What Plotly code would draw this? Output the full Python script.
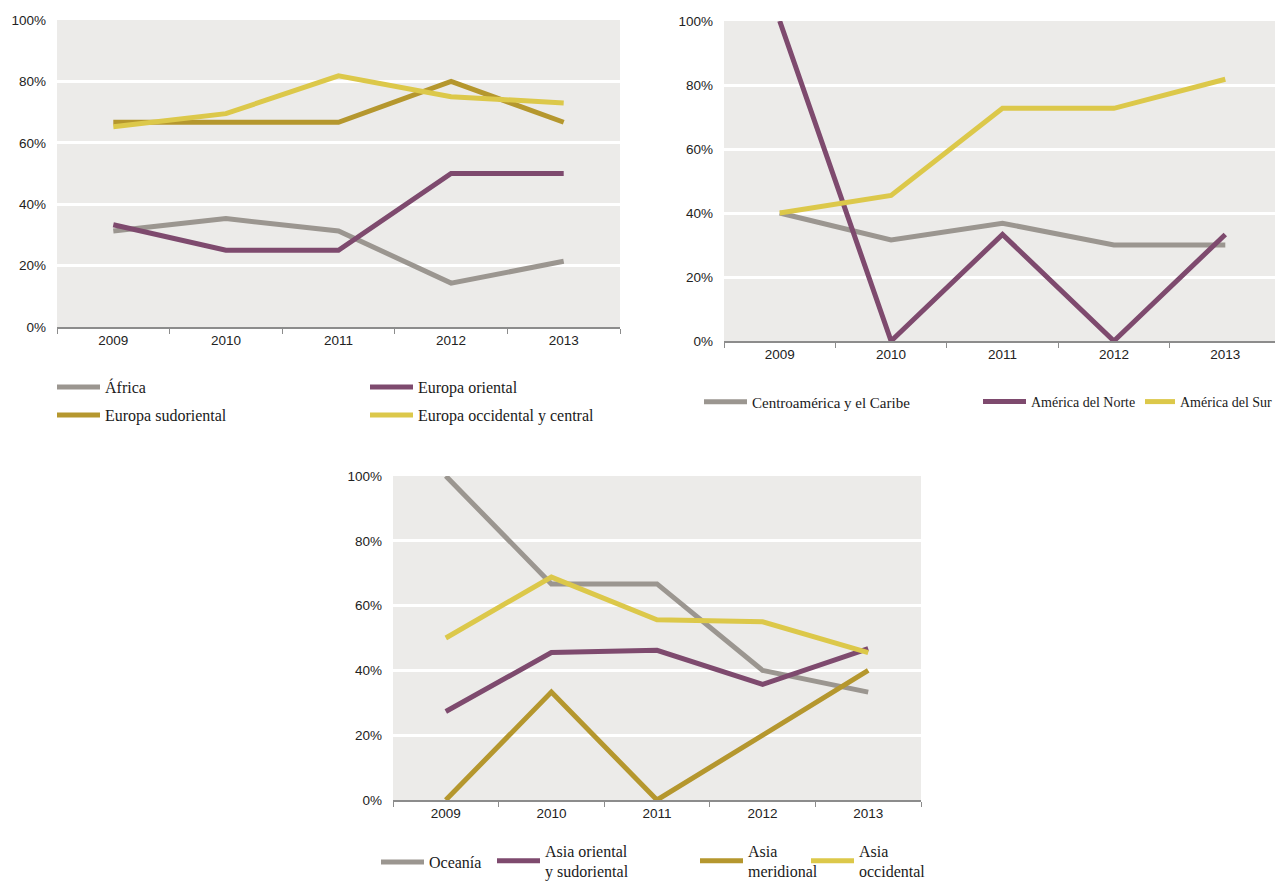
import plotly.graph_objects as go

years = ["2009", "2010", "2011", "2012", "2013"]
y_ticks = [0, 0.2, 0.4, 0.6, 0.8, 1.0]
y_tick_labels = ["0%", "20%", "40%", "60%", "80%", "100%"]

# Chart 1
africa = [0.313, 0.353, 0.313, 0.143, 0.214]
europa_oriental = [0.333, 0.25, 0.25, 0.50, 0.50]
europa_sudoriental = [0.667, 0.667, 0.667, 0.80, 0.667]
europa_occ_central = [0.652, 0.695, 0.818, 0.75, 0.73]

# Chart 2
centroamerica = [0.40, 0.316, 0.368, 0.30, 0.30]
america_norte = [1.0, 0.0, 0.333, 0.0, 0.333]
america_sur = [0.40, 0.455, 0.727, 0.727, 0.818]

# Chart 3
oceania = [1.0, 0.667, 0.667, 0.40, 0.333]
asia_oriental = [0.273, 0.455, 0.462, 0.357, 0.467]
asia_meridional = [0.0, 0.333, 0.0, 0.20, 0.40]
asia_occidental = [0.50, 0.688, 0.556, 0.55, 0.455]

GRAY = "#9b9690"
PURPLE = "#7e4a6e"
GOLD = "#b5972e"
YELLOW = "#dcc84a"
BG = "#ecebe9"

OFF = 8  # page body margin
W, H = 1283 - OFF, 883 - OFF

fig = go.Figure()

def px_x(v):
    return (v - OFF) / W

def px_y(v):
    return 1 - (v - OFF) / H

series = [
    # name, values, color, axis, legend id, legend x px, legend y px, item width, font size
    ("África", africa, GRAY, 1, "legend", 52, 387, 43, 16),
    ("Europa oriental", europa_oriental, PURPLE, 1, "legend2", 365, 387, 43, 16),
    ("Europa sudoriental", europa_sudoriental, GOLD, 1, "legend3", 52, 415, 43, 16),
    ("Europa occidental y central", europa_occ_central, YELLOW, 1, "legend4", 365, 415, 43, 16),
    ("Centroamérica y el Caribe", centroamerica, GRAY, 2, "legend5", 699, 402, 43, 15),
    ("América del Norte", america_norte, PURPLE, 2, "legend6", 978, 402, 43, 14),
    ("América del Sur", america_sur, YELLOW, 2, "legend7", 1140, 402, 30, 14),
    ("Oceanía", oceania, GRAY, 3, "legend8", 376, 862, 43, 16),
    ("Asia oriental<br>y sudoriental", asia_oriental, PURPLE, 3, "legend9", 492, 861, 43, 16),
    ("Asia<br>meridional", asia_meridional, GOLD, 3, "legend10", 695, 861, 43, 16),
    ("Asia<br>occidental", asia_occidental, YELLOW, 3, "legend11", 806, 861, 43, 16),
]

for name, vals, color, ax, leg, lx, ly, iw, fs in series:
    fig.add_trace(go.Scatter(
        x=years, y=vals, name=name, mode="lines",
        line=dict(color=color, width=5),
        xaxis="x" if ax == 1 else f"x{ax}",
        yaxis="y" if ax == 1 else f"y{ax}",
        legend=leg, hoverinfo="skip",
    ))

layout_legends = {}
for name, vals, color, ax, leg, lx, ly, iw, fs in series:
    layout_legends[leg] = dict(
        x=px_x(lx), y=px_y(ly), xanchor="left", yanchor="middle",
        xref="paper", yref="paper",
        font=dict(family="Liberation Serif", size=fs, color="#1a1a1a"),
        bgcolor="rgba(0,0,0,0)", borderwidth=0,
        itemwidth=iw, tracegroupgap=0,
    )

domains = {
    1: ([57, 620], [20, 327]),
    2: ([724, 1281], [21, 341]),
    3: ([393, 921], [476, 800]),
}

tick_font = dict(family="Liberation Sans", size=13.5, color="#222222")

axes = {}
for ax, ((x0, x1), (y0, y1)) in domains.items():
    xk = "xaxis" if ax == 1 else f"xaxis{ax}"
    yk = "yaxis" if ax == 1 else f"yaxis{ax}"
    ya = "y" if ax == 1 else f"y{ax}"
    xa = "x" if ax == 1 else f"x{ax}"
    axes[xk] = dict(
        domain=[px_x(x0), px_x(x1)], anchor=ya, type="category",
        categoryorder="array", categoryarray=years,
        range=[-0.5, 4.5], showgrid=False, zeroline=False,
        showline=True, linecolor="#8c8c8c", linewidth=2,
        ticks="outside", tickson="boundaries", ticklen=5, tickwidth=1,
        tickcolor="#8c8c8c", tickfont=tick_font, fixedrange=True,
    )
    axes[yk] = dict(
        domain=[px_y(y1), px_y(y0)], anchor=xa, range=[0, 1],
        tickvals=y_ticks, ticktext=y_tick_labels,
        showgrid=True, gridcolor="white", gridwidth=3,
        zeroline=False, showline=False, ticks="",
        ticklabelstandoff=10, tickfont=tick_font, fixedrange=True,
    )

fig.update_layout(
    width=W, height=H,
    margin=dict(l=0, r=0, t=0, b=0, autoexpand=False),
    paper_bgcolor="white", plot_bgcolor=BG,
    showlegend=True,
    **axes, **layout_legends,
)

fig.write_html("out.html")
